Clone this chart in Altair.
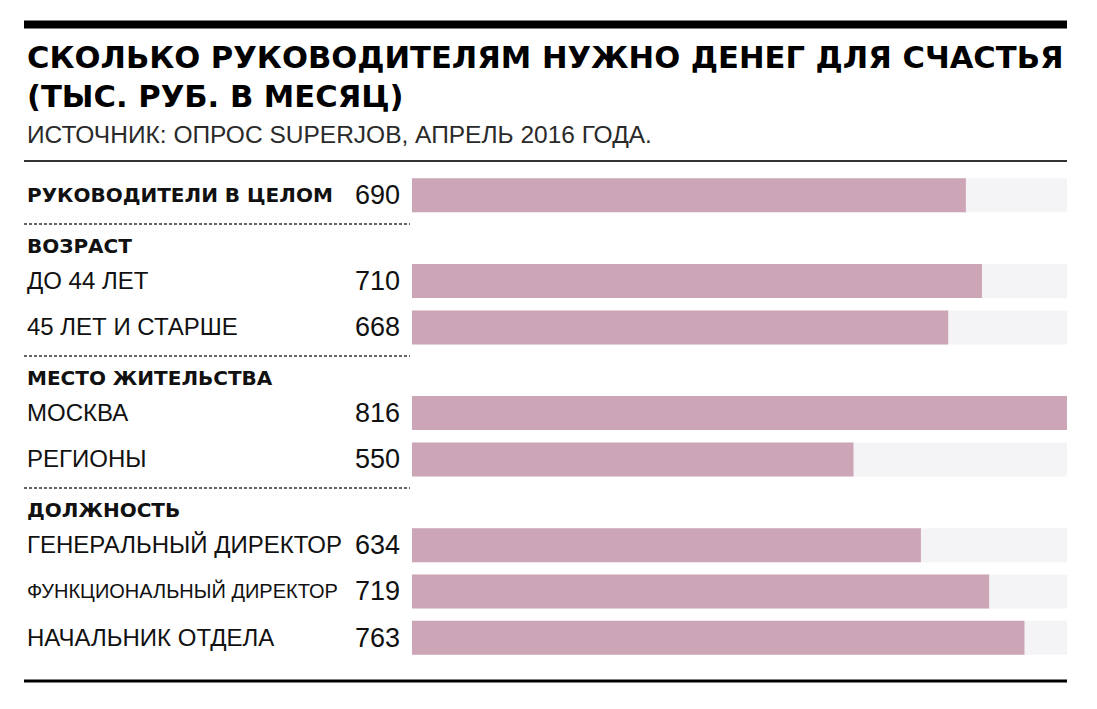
import altair as alt
import pandas as pd

# ---------------- data ----------------
title_lines = ["СКОЛЬКО РУКОВОДИТЕЛЯМ НУЖНО ДЕНЕГ ДЛЯ СЧАСТЬЯ", "(ТЫС. РУБ. В МЕСЯЦ)"]
subtitle = "ИСТОЧНИК: ОПРОС SUPERJOB, АПРЕЛЬ 2016 ГОДА."
groups = ["", "ВОЗРАСТ", "МЕСТО ЖИТЕЛЬСТВА", "ДОЛЖНОСТЬ"]
categories = [
    "РУКОВОДИТЕЛИ В ЦЕЛОМ",
    "ДО 44 ЛЕТ",
    "45 ЛЕТ И СТАРШЕ",
    "МОСКВА",
    "РЕГИОНЫ",
    "ГЕНЕРАЛЬНЫЙ ДИРЕКТОР",
    "ФУНКЦИОНАЛЬНЫЙ ДИРЕКТОР",
    "НАЧАЛЬНИК ОТДЕЛА",
]
values = [690, 710, 668, 816, 550, 634, 719, 763]
category_group = [0, 1, 1, 2, 2, 3, 3, 3]

# ---------------- layout ----------------
W, H = 1043, 690
FIRST = 185
ROW_STEP = 47
ROW_TO_SEP = 29
SEP_TO_HEAD = 22
HEAD_TO_ROW = 36
BAR_X0 = 388          # where the bars start (plot coords)
LABEL_X = 3
VALUE_X = 376
SEP_X2 = 386

rows, heads, seps = [], [], []
y_last, prev_g = None, None
for i, (c, v, g) in enumerate(zip(categories, values, category_group)):
    if i == 0:
        y = FIRST
    elif g != prev_g:
        sep = y_last + ROW_TO_SEP
        seps.append({"pos": sep})
        head = sep + SEP_TO_HEAD
        heads.append({"label": groups[g], "pos": head})
        y = head + HEAD_TO_ROW
    else:
        y = y_last + ROW_STEP
    style = "bold" if g == 0 else ("narrow" if len(c) > 22 else "regular")
    rows.append({"label": c, "value": v, "pos": y, "style": style})
    y_last, prev_g = y, g

df = pd.DataFrame(rows)
dh = pd.DataFrame(heads)
ds = pd.DataFrame(seps)
XMAX = max(values)

xscale = alt.Scale(domain=[0, XMAX], range=[BAR_X0, W])
yscale = alt.Scale(domain=[0, H], range=[0, H])
Y = alt.Y("pos:Q", scale=yscale, axis=None)

FONT = "Liberation Sans, Arial, Helvetica, sans-serif"
BOLD = "DejaVu Sans, Liberation Sans, sans-serif"
INK = "#111111"

track = alt.Chart(df).mark_bar(size=34, color="#F4F3F5", orient="horizontal").encode(
    x=alt.X(datum=XMAX, scale=xscale, axis=None), x2=alt.datum(0), y=Y
)
bars = alt.Chart(df).mark_bar(size=34, color="#CCA5B6", orient="horizontal").encode(
    x=alt.X("value:Q", scale=xscale, axis=None), x2=alt.datum(0), y=Y
)

def label_layer(style, font, size, weight):
    return alt.Chart(df).transform_filter(alt.datum.style == style).mark_text(
        align="left", baseline="middle", font=font, fontSize=size, fontWeight=weight,
        color=INK, dy=1
    ).encode(x=alt.value(LABEL_X), y=Y, text="label:N")

lab_reg = label_layer("regular", FONT, 24, "normal")
lab_bold = label_layer("bold", BOLD, 20, "bold")
lab_narrow = label_layer("narrow", FONT, 20, "normal")

vals = alt.Chart(df).mark_text(
    align="right", baseline="middle", font=FONT, fontSize=27, color=INK, dy=1
).encode(x=alt.value(VALUE_X), y=Y, text="value:Q")

head_txt = alt.Chart(dh).mark_text(
    align="left", baseline="middle", font=BOLD, fontSize=20, fontWeight="bold", color=INK, dy=1
).encode(x=alt.value(LABEL_X), y=Y, text="label:N")

sep_rules = alt.Chart(ds).mark_rule(color="#333333", strokeWidth=1.5, strokeDash=[3, 2]).encode(
    x=alt.value(0), x2=alt.value(SEP_X2), y=Y
)

# ---------------- decoration ----------------
deco = pd.DataFrame({"k": [0]})
top_rule = alt.Chart(deco).mark_rule(color="#000000", strokeWidth=8).encode(
    x=alt.value(0), x2=alt.value(W), y=alt.value(16.5)
)
thin_rule = alt.Chart(deco).mark_rule(color="#333333", strokeWidth=2).encode(
    x=alt.value(0), x2=alt.value(W), y=alt.value(153)
)
bottom_rule = alt.Chart(deco).mark_rule(color="#000000", strokeWidth=3).encode(
    x=alt.value(0), x2=alt.value(W), y=alt.value(673)
)
t1 = alt.Chart(deco).mark_text(
    align="left", baseline="alphabetic", font=BOLD, fontSize=30.6, fontWeight="bold", color="#000"
).encode(x=alt.value(LABEL_X), y=alt.value(60), text=alt.value(title_lines[0]))
t2 = alt.Chart(deco).mark_text(
    align="left", baseline="alphabetic", font=BOLD, fontSize=30.6, fontWeight="bold", color="#000"
).encode(x=alt.value(LABEL_X), y=alt.value(99), text=alt.value(title_lines[1]))
sub = alt.Chart(deco).mark_text(
    align="left", baseline="alphabetic", font=FONT, fontSize=24.5, color="#2a2a2a"
).encode(x=alt.value(LABEL_X), y=alt.value(135), text=alt.value(subtitle))

chart = alt.layer(
    track, bars, sep_rules, lab_reg, lab_bold, lab_narrow, vals, head_txt,
    top_rule, thin_rule, bottom_rule, t1, t2, sub
).properties(
    width=W, height=H,
    background="#ffffff",
    autosize=alt.AutoSizeParams(type="none"),
    padding={"left": 16, "top": 0, "right": 0, "bottom": 0},
).configure_view(stroke=None)

chart.save("out.html", embed_options={"renderer": "svg", "actions": False})
